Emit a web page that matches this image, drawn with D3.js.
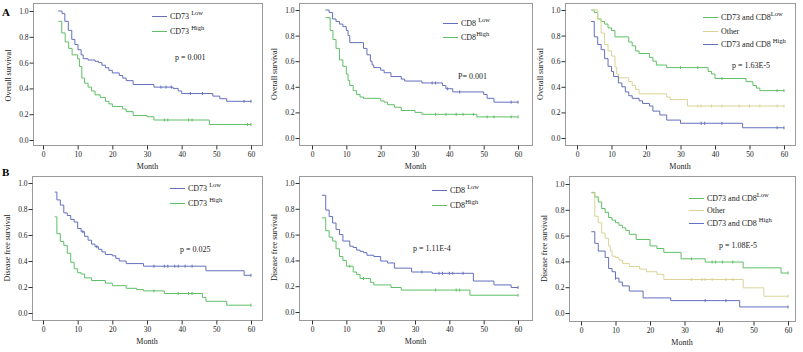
<!DOCTYPE html>
<html>
<head>
<meta charset="utf-8">
<script src="https://cdn.jsdelivr.net/npm/d3@7"></script>
<style>
  body { margin: 0; background: #fff; }
  svg { display: block; font-family: "Liberation Serif", "Times New Roman", serif; }
  .frame { fill: none; stroke: #9a9a9a; stroke-width: 1; }
  .axis text { font-size: 7.5px; fill: #222; font-family: "Liberation Serif", serif; }
  .axis line { stroke: #333; }
  .axis path { display: none; }
  .lbl { font-size: 8px; fill: #222; }
</style>
</head>
<body>
<svg id="chart" width="803" height="352"></svg>
<script>
// tick values
const monthTicks = [0, 10, 20, 30, 40, 50, 60];
const survTicks = [0, 0.2, 0.4, 0.6, 0.8, 1.0];

// colours
const blue = '#6370bd', green = '#5fbf67', tan = '#dbd296';

// ---- A: overall survival, [month, survival] at each step ----
const osCd73Low = [[4.4,1],[5.5,0.98],[6.3,0.92],[7.3,0.85],[8.3,0.78],[9.2,0.74],[10.1,0.70],[11,0.66],[11.6,0.63],[13,0.62],[15,0.61],[16,0.60],[17,0.58],[18,0.56],[19,0.54],[20,0.52],[22,0.50],[23,0.48],[24,0.46],[26,0.43],[32,0.41],[37.5,0.40],[39,0.38],[40,0.36],[49,0.34],[51,0.32],[53,0.30]];
const osCd73LowCens = [34, 35.5, 37, 42.5, 46, 58, 60];
const osCd73High = [[4.4,0.92],[5.4,0.83],[6.4,0.76],[7.4,0.71],[8.4,0.66],[10,0.63],[10.5,0.57],[11.2,0.48],[12,0.44],[13,0.41],[14,0.38],[15,0.35],[16.5,0.33],[18,0.30],[19,0.28],[20,0.26],[23,0.24],[24,0.22],[26,0.19],[30,0.18],[32,0.155],[48,0.12]];
const osCd73HighCens = [35, 36, 42, 43, 59, 60];

const osCd8Low = [[3.9,1],[5,0.98],[6,0.93],[7,0.91],[8,0.89],[9,0.87],[10,0.84],[10.5,0.80],[11,0.745],[15,0.70],[16,0.65],[17,0.60],[17.5,0.57],[18,0.55],[20,0.53],[21,0.51],[23,0.48],[26,0.46],[27,0.445],[32,0.43],[38,0.41],[39,0.385],[41,0.36],[50,0.34],[51,0.31],[53,0.28]];
const osCd8LowCens = [35, 36, 39.5, 43, 58, 60];
const osCd8High = [[3.9,0.94],[5.3,0.84],[6.1,0.77],[7,0.70],[8,0.61],[9,0.56],[10,0.50],[10.5,0.45],[11,0.41],[12,0.37],[13,0.34],[14,0.32],[15,0.31],[20,0.29],[21,0.28],[22,0.26],[24,0.24],[26,0.215],[30,0.20],[32,0.185],[48,0.165]];
const osCd8HighCens = [36, 39, 42, 44, 47, 51, 53, 58, 60];

const osBothLow = [[4.1,1],[5,0.98],[6,0.93],[7,0.91],[8,0.89],[9,0.86],[10,0.84],[11,0.79],[15,0.75],[16,0.72],[17,0.68],[18,0.66],[21,0.63],[22,0.60],[23,0.57],[26,0.55],[38,0.52],[39,0.50],[40,0.465],[49,0.44],[51,0.41],[52,0.39],[53,0.37]];
const osBothLowCens = [30, 35, 42, 58, 60];
const osOther = [[4.5,1],[6,0.93],[7,0.82],[8,0.73],[9,0.68],[10,0.64],[11,0.555],[11.5,0.50],[12,0.47],[15,0.44],[16,0.41],[17,0.38],[18,0.345],[26,0.32],[27,0.30],[32,0.25]];
const osOtherCens = [35, 36, 39, 42, 47, 50, 53, 58, 60];
const osBothHigh = [[4.1,0.91],[5,0.79],[6,0.73],[7,0.69],[8,0.62],[9,0.56],[10,0.52],[10.6,0.48],[12,0.43],[13,0.40],[14,0.36],[15,0.33],[16,0.31],[18,0.29],[19,0.27],[21,0.25],[22,0.21],[24,0.18],[26,0.14],[30,0.115],[48,0.08]];
const osBothHighCens = [36, 37, 42, 58, 60];

// ---- B: disease free survival ----
const dfsCd73Low = [[3.4,0.93],[4,0.87],[5,0.83],[6,0.77],[7,0.75],[8,0.72],[9,0.70],[10,0.65],[11,0.625],[12,0.59],[13,0.56],[14,0.53],[15,0.51],[16,0.49],[17,0.47],[18,0.45],[20,0.44],[21,0.42],[22,0.40],[24,0.38],[29,0.36],[47,0.325],[58,0.29]];
const dfsCd73LowCens = [11.5, 15.5, 32, 35, 36, 38, 39, 41, 43, 60];
const dfsCd73High = [[3.4,0.74],[4,0.61],[5,0.55],[6,0.52],[7,0.46],[8,0.39],[9,0.34],[10,0.31],[11,0.30],[12,0.27],[14,0.25],[18,0.23],[20,0.21],[24,0.19],[27,0.18],[29,0.17],[35,0.15],[46,0.12],[47,0.09],[53,0.06]];
const dfsCd73HighCens = [32, 39, 42, 43, 60];

const dfsCd8Low = [[2.9,0.905],[4,0.79],[5,0.74],[6,0.69],[7,0.64],[8,0.60],[9,0.55],[11,0.51],[12,0.50],[13,0.48],[14,0.47],[15,0.46],[16,0.44],[18,0.43],[20,0.395],[22,0.38],[24,0.34],[29,0.31],[35,0.30],[47,0.24],[53,0.21],[58,0.19]];
const dfsCd8LowCens = [32, 37, 38, 40, 41, 44, 60];
const dfsCd8High = [[2.9,0.73],[4,0.63],[5,0.58],[6,0.55],[7,0.49],[8,0.43],[9,0.40],[10,0.355],[12,0.31],[13,0.29],[14,0.26],[17,0.23],[18,0.21],[23,0.19],[26,0.17],[46,0.13]];
const dfsCd8HighCens = [11, 15, 36, 42, 43, 60];

const dfsBothLow = [[3,0.935],[4,0.90],[5,0.86],[6,0.81],[7,0.78],[8,0.74],[9,0.72],[10,0.70],[11,0.68],[12,0.66],[13,0.64],[14,0.61],[16,0.57],[20,0.52],[22,0.50],[24,0.47],[29,0.42],[36,0.395],[47,0.35],[58,0.31]];
const dfsBothLowCens = [32, 38, 39, 41, 44, 60];
const dfsOther = [[3,0.93],[4,0.75],[5,0.70],[6,0.62],[7,0.58],[8,0.52],[8.5,0.48],[9,0.44],[10,0.43],[11,0.41],[12,0.385],[14,0.36],[17,0.34],[19,0.32],[22,0.30],[24,0.26],[47,0.195],[53,0.13]];
const dfsOtherCens = [32, 35, 36, 38, 42, 44, 60];
const dfsBothHigh = [[3,0.63],[4,0.54],[5,0.48],[7,0.43],[8,0.345],[9,0.32],[10,0.27],[11,0.24],[12,0.21],[14,0.17],[18,0.117],[26,0.096],[46,0.047]];
const dfsBothHighCens = [10, 36, 42, 60];

// panel layout: frame box, scale ranges, legend + p value placement
const panels = [
  { frame: [33, 262, 3, 145], xr: [43, 251], yr: [140, 11], ylabel: 'Overall survival',
    series: [
      { data: osCd73Low, cens: osCd73LowCens, color: blue, name: 'CD73 ', sup: 'Low' },
      { data: osCd73High, cens: osCd73HighCens, color: green, name: 'CD73 ', sup: 'High' }],
    legend: [152, [16, 31]], p: ['p = 0.001', 175, 60] },
  { frame: [299, 532, 3, 145], xr: [312, 518], yr: [138, 10], ylabel: 'Overall survival',
    series: [
      { data: osCd8Low, cens: osCd8LowCens, color: blue, name: 'CD8 ', sup: 'Low' },
      { data: osCd8High, cens: osCd8HighCens, color: green, name: 'CD8', sup: 'High' }],
    legend: [443, [23, 37]], p: ['P= 0.001', 458, 79] },
  { frame: [565, 795, 3, 145], xr: [577, 784], yr: [138, 10], ylabel: 'Overall survival',
    series: [
      { data: osBothLow, cens: osBothLowCens, color: green, name: 'CD73 and CD8', sup: 'Low' },
      { data: osOther, cens: osOtherCens, color: tan, name: 'Other', sup: '' },
      { data: osBothHigh, cens: osBothHighCens, color: blue, name: 'CD73 and CD8 ', sup: 'High' }],
    legend: [703, [17, 31, 44]], p: ['p = 1.63E-5', 732, 68] },
  { frame: [32, 262, 176, 320], xr: [43, 251], yr: [313, 183], ylabel: 'Disease free survival',
    series: [
      { data: dfsCd73Low, cens: dfsCd73LowCens, color: blue, name: 'CD73 ', sup: 'Low' },
      { data: dfsCd73High, cens: dfsCd73HighCens, color: green, name: 'CD73 ', sup: 'High' }],
    legend: [170, [188, 203]], p: ['p = 0.025', 180, 252] },
  { frame: [299, 532, 176, 320], xr: [312, 518], yr: [312, 183], ylabel: 'Disease free survival',
    series: [
      { data: dfsCd8Low, cens: dfsCd8LowCens, color: blue, name: 'CD8 ', sup: 'Low' },
      { data: dfsCd8High, cens: dfsCd8HighCens, color: green, name: 'CD8', sup: 'High' }],
    legend: [432, [190, 205]], p: ['p = 1.11E-4', 413, 251] },
  { frame: [569, 795, 176, 321], xr: [581, 788], yr: [313, 184], ylabel: 'Disease free survival',
    series: [
      { data: dfsBothLow, cens: dfsBothLowCens, color: green, name: 'CD73 and CD8', sup: 'Low' },
      { data: dfsOther, cens: dfsOtherCens, color: tan, name: 'Other', sup: '' },
      { data: dfsBothHigh, cens: dfsBothHighCens, color: blue, name: 'CD73 and CD8 ', sup: 'High' }],
    legend: [689, [198, 210, 223]], p: ['p = 1.08E-5', 719, 248] }
];

const svg = d3.select('#chart');

// survival value at a given month (step function)
function survAt(data, m) {
  let v = data[0][1];
  data.forEach(d => { if (d[0] <= m) v = d[1]; });
  return v;
}

panels.forEach(p => {
  const [fx0, fx1, fy0, fy1] = p.frame;
  const x = d3.scaleLinear().domain([0, 60]).range(p.xr);
  const y = d3.scaleLinear().domain([0, 1]).range(p.yr);
  const g = svg.append('g');

  g.append('rect').attr('class', 'frame')
    .attr('x', fx0 + 0.5).attr('y', fy0 + 0.5)
    .attr('width', fx1 - fx0).attr('height', fy1 - fy0);

  // axes sit on the frame edges
  g.append('g').attr('class', 'axis')
    .attr('transform', `translate(0,${fy1 + 0.5})`)
    .call(d3.axisBottom(x).tickValues(monthTicks).tickSize(4).tickPadding(2).tickSizeOuter(0));

  g.append('g').attr('class', 'axis')
    .attr('transform', `translate(${fx0 + 0.5},0)`)
    .call(d3.axisLeft(y).tickValues(survTicks).tickSize(4).tickPadding(1)
      .tickFormat(d3.format('.1f')).tickSizeOuter(0));

  g.append('text').attr('class', 'lbl')
    .attr('x', (fx0 + fx1) / 2).attr('y', fy1 + 24)
    .attr('text-anchor', 'middle').text('Month');

  g.append('text').attr('class', 'lbl')
    .attr('transform', `translate(${fx0 - 22},${(p.yr[0] + p.yr[1]) / 2})rotate(-90)`)
    .attr('text-anchor', 'middle').text(p.ylabel);

  const line = d3.line()
    .x(d => x(d[0])).y(d => y(d[1]))
    .curve(d3.curveStepAfter);

  p.series.forEach((s, i) => {
    const pts = s.data.concat([[60, s.data[s.data.length - 1][1]]]);
    g.append('path')
      .attr('d', line(pts))
      .attr('fill', 'none')
      .attr('stroke', s.color)
      .attr('stroke-width', 1);

    // censor ticks
    g.selectAll(null)
      .data(s.cens)
      .join('line')
      .attr('x1', d => x(d)).attr('x2', d => x(d))
      .attr('y1', d => y(survAt(s.data, d)) - 1.5)
      .attr('y2', d => y(survAt(s.data, d)) + 1.5)
      .attr('stroke', s.color)
      .attr('stroke-width', 1);

    // legend entry
    const lx = p.legend[0], ly = p.legend[1][i];
    g.append('line')
      .attr('x1', lx).attr('x2', lx + 15)
      .attr('y1', ly + 0.5).attr('y2', ly + 0.5)
      .attr('stroke', s.color).attr('stroke-width', 1);
    const t = g.append('text').attr('class', 'lbl')
      .attr('x', lx + 18).attr('y', ly + 3);
    t.append('tspan').text(s.name);
    if (s.sup) t.append('tspan').attr('dy', -4).style('font-size', '6.5px').text(s.sup);
  });

  g.append('text').attr('class', 'lbl')
    .attr('x', p.p[1]).attr('y', p.p[2]).text(p.p[0]);
});

// panel letters
svg.append('text').attr('x', 2).attr('y', 16)
  .style('font-size', '11px').style('font-weight', 'bold').text('A');
svg.append('text').attr('x', 2).attr('y', 176)
  .style('font-size', '11px').style('font-weight', 'bold').text('B');
</script>
</body>
</html>
